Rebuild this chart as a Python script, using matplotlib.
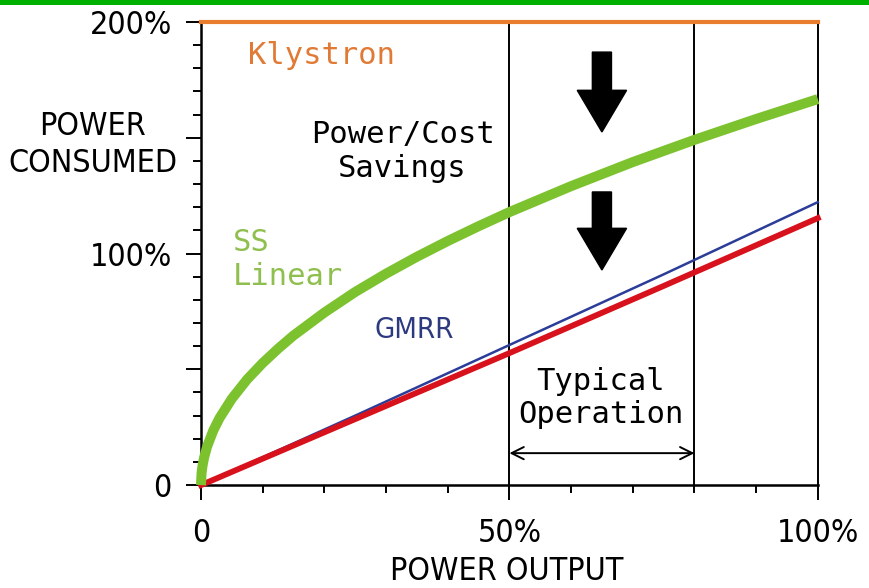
import matplotlib
matplotlib.use('Agg')
import matplotlib.pyplot as plt
from matplotlib.patches import Rectangle
from matplotlib.ticker import MultipleLocator
from matplotlib import font_manager

# values (percent of full scale)
ss_output = [0, 0.1, 0.25, 0.5, 1, 2, 3, 5, 7.5, 10, 12.5, 15, 20, 25, 30, 35, 40, 45, 50, 60, 70, 80, 90, 100]
ss_linear = [0, 5.3, 8.3, 11.8, 16.7, 23.6, 28.9, 37.3, 45.7, 52.7, 58.9, 64.6, 74.5, 83.4, 91.3, 98.6, 105.4,
             111.8, 117.9, 129.1, 139.5, 149.1, 158.1, 166.7]
lin_output = [0, 25, 50, 75, 100]
gmrr = [0, 30, 60.5, 91, 122.2]
gmrr_red = [0, 28.5, 57, 86, 115.3]
klystron_output = [0, 100]
klystron = [200, 200]
region_lines = [50, 80]
y_ticks = [0, 50, 100, 150, 200]
y_ticklabels = ['0', '', '100%', '', '200%']
x_ticks = [0, 50, 100]
x_ticklabels = ['0', '50%', '100%']

installed = set(f.name for f in font_manager.fontManager.ttflist)
if 'Liberation Sans Narrow' in installed:
    narrow = dict(family='Liberation Sans Narrow')
else:
    narrow = dict(family='DejaVu Sans', stretch='condensed')
mono = 'DejaVu Sans Mono'

fig = plt.figure(figsize=(8.7, 5.88), dpi=100)
ax = fig.add_axes([0.231, 0.175, 0.709, 0.7876])
fig.add_artist(Rectangle((0, 1 - 5 / 588.), 1, 5 / 588., transform=fig.transFigure, color='#00b000', lw=0))

ax.plot(klystron_output, klystron, color='#e87d2e', lw=3, clip_on=False, zorder=3)
ax.plot(ss_output, ss_linear, color='#7cc22e', lw=7.2, clip_on=False, solid_capstyle='butt',
        solid_joinstyle='round', zorder=4)
ax.plot(lin_output, gmrr, color='#2b3d98', lw=1.8, clip_on=False, zorder=3)
ax.plot(lin_output, gmrr_red, color='#d8121c', lw=4.2, clip_on=False, zorder=3)
for xv in region_lines:
    ax.axvline(xv, color='black', lw=1.4, zorder=2)

ax.set_xlim(0, 100)
ax.set_ylim(0, 200)
ax.spines['top'].set_visible(False)
ax.spines['left'].set_linewidth(1.8)
ax.spines['bottom'].set_linewidth(1.8)
ax.spines['right'].set_linewidth(1.4)

ax.set_xticks(x_ticks)
ax.set_xticklabels(x_ticklabels, fontsize=23, **narrow)
ax.set_yticks(y_ticks)
ax.set_yticklabels(y_ticklabels, fontsize=23, **narrow)
ax.xaxis.set_minor_locator(MultipleLocator(10))
ax.yaxis.set_minor_locator(MultipleLocator(10))
ax.tick_params(axis='both', which='major', length=11, width=1.4, direction='out')
ax.tick_params(axis='both', which='minor', length=6, width=1.4, direction='out')
ax.tick_params(axis='x', which='major', pad=13)
ax.tick_params(axis='y', which='major', pad=10)

fig.text(507 / 870., 1 - 572 / 588., 'POWER OUTPUT', fontsize=23, ha='center', va='center', **narrow)
fig.text(93 / 870., 1 - 145 / 588., 'POWER\nCONSUMED', fontsize=23, ha='center', va='center',
         multialignment='center', linespacing=1.25, **narrow)

ax.text(7.6, 185.7, 'Klystron', family=mono, fontsize=22, color='#e07a35', ha='left', va='center')
ax.text(32.7, 144, 'Power/Cost\nSavings', family=mono, fontsize=22, color='black', ha='center', va='center',
        multialignment='center', linespacing=1.2)
ax.text(5.2, 97.4, 'SS\nLinear', family=mono, fontsize=22, color='#8fbf4e', ha='left', va='center', linespacing=1.2)
ax.text(34.5, 67, 'GMRR', fontsize=21, color='#2d3a80', ha='center', va='center', **narrow)
ax.text(64.8, 37.6, 'Typical\nOperation', family=mono, fontsize=22, color='black', ha='center', va='center',
        multialignment='center', linespacing=1.2)

ax.arrow(65, 187, 0, -34.5, width=3.1, head_width=8, head_length=18, length_includes_head=True,
         color='black', zorder=5)
ax.arrow(65, 126.6, 0, -33.7, width=3.1, head_width=8, head_length=18, length_includes_head=True,
         color='black', zorder=5)
ax.annotate('', xy=(80, 13.8), xytext=(50, 13.8),
            arrowprops=dict(arrowstyle='<->', lw=1.4, color='black', mutation_scale=22,
                            shrinkA=0, shrinkB=0))

fig.savefig('out.png', dpi=100)
